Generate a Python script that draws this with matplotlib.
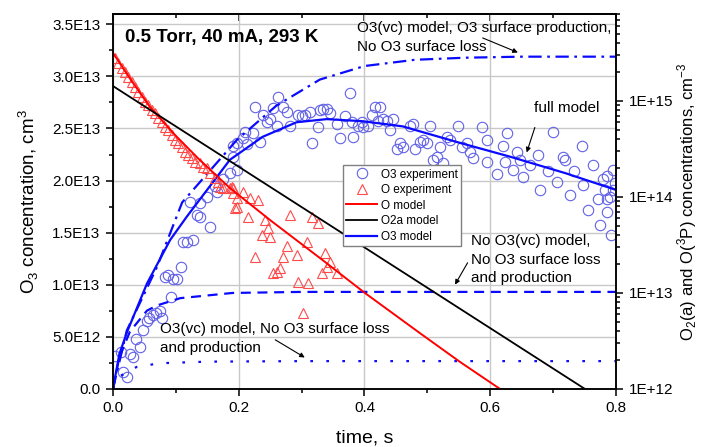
import matplotlib
matplotlib.use("Agg")
import matplotlib.pyplot as plt
import numpy as np

# ---- O3 experiment (time s, concentration in 1E13 cm^-3, left axis)
o3_exp_t = [0.003, 0.013, 0.016, 0.022, 0.027, 0.032, 0.037, 0.043, 0.048, 0.054,
            0.057, 0.064, 0.068, 0.075, 0.078, 0.092, 0.083, 0.087, 0.095, 0.102,
            0.108, 0.111, 0.118, 0.127, 0.122, 0.134, 0.138, 0.149, 0.138, 0.154,
            0.165, 0.162, 0.175, 0.186, 0.197, 0.191, 0.197, 0.191, 0.210, 0.207,
            0.213, 0.226, 0.223, 0.234, 0.238, 0.245, 0.250, 0.254, 0.262, 0.261,
            0.270, 0.277, 0.281, 0.294, 0.300, 0.305, 0.313, 0.316, 0.326, 0.329,
            0.334, 0.340, 0.345, 0.356, 0.361, 0.369, 0.377, 0.380, 0.382, 0.390,
            0.396, 0.397, 0.405, 0.412, 0.417, 0.424, 0.421, 0.429, 0.436, 0.440,
            0.445, 0.452, 0.456, 0.461, 0.472, 0.477, 0.480, 0.488, 0.493, 0.499,
            0.504, 0.509, 0.515, 0.520, 0.525, 0.531, 0.536, 0.548, 0.555, 0.563,
            0.568, 0.587, 0.595, 0.626, 0.620, 0.642, 0.700, 0.746, 0.676, 0.715,
            0.572, 0.595, 0.610, 0.623, 0.636, 0.647, 0.652, 0.663, 0.679, 0.692,
            0.706, 0.719, 0.727, 0.734, 0.747, 0.755, 0.763, 0.771, 0.774, 0.779,
            0.785, 0.792, 0.796, 0.795, 0.785, 0.782, 0.790, 0.798, 0.785]
o3_exp_v = [0.31, 0.35, 0.16, 0.11, 0.33, 0.30, 0.48, 0.40, 0.56, 0.65,
            0.68, 0.71, 0.73, 0.75, 0.68, 0.88, 1.07, 1.09, 1.05, 1.05,
            1.17, 1.41, 1.41, 1.43, 1.79, 1.67, 1.78, 1.84, 1.65, 1.55,
            1.89, 1.95, 2.01, 2.07, 2.10, 2.23, 2.36, 2.33, 2.47, 2.41,
            2.35, 2.71, 2.46, 2.37, 2.63, 2.56, 2.59, 2.70, 2.80, 2.52,
            2.71, 2.66, 2.52, 2.63, 2.62, 2.63, 2.66, 2.36, 2.51, 2.68,
            2.69, 2.69, 2.65, 2.54, 2.41, 2.62, 2.84, 2.56, 2.42, 2.52,
            2.56, 2.51, 2.52, 2.63, 2.71, 2.71, 2.57, 2.59, 2.57, 2.49,
            2.59, 2.30, 2.36, 2.32, 2.52, 2.54, 2.30, 2.37, 2.39, 2.36,
            2.52, 2.20, 2.23, 2.32, 2.17, 2.42, 2.39, 2.52, 2.32, 2.36,
            2.27, 2.51, 2.39, 2.46, 2.33, 2.27, 2.47, 2.33, 2.25, 2.23,
            2.22, 2.18, 2.06, 2.18, 2.10, 2.20, 2.03, 2.15, 1.91, 2.09,
            1.99, 2.20, 1.86, 2.09, 1.96, 1.72, 2.15, 1.82, 1.57, 2.01,
            1.70, 1.48, 1.91, 2.10, 2.04, 1.91, 1.84, 1.98, 1.82]

# ---- O experiment (time s, concentration cm^-3, right axis)
o_exp_t = [0.003, 0.008, 0.014, 0.019, 0.024, 0.030, 0.035, 0.040, 0.046, 0.051,
           0.056, 0.062, 0.067, 0.072, 0.078, 0.083, 0.087, 0.094, 0.099, 0.103,
           0.110, 0.114, 0.119, 0.126, 0.130, 0.138, 0.143, 0.149, 0.154, 0.162,
           0.167, 0.170, 0.175, 0.186, 0.191, 0.197, 0.189, 0.191, 0.197, 0.207,
           0.218, 0.231, 0.194, 0.215, 0.242, 0.246, 0.237, 0.250, 0.281, 0.316,
           0.326, 0.226, 0.277, 0.270, 0.293, 0.308, 0.337, 0.345, 0.340, 0.266,
           0.261, 0.254, 0.332, 0.356, 0.294, 0.310, 0.302]
o_exp_v = [2.79e15, 2.47e15, 2.19e15, 1.99e15, 1.77e15, 1.57e15, 1.39e15, 1.23e15, 1.09e15, 9.7e14,
           9.0e14, 8.0e14, 7.45e14, 6.6e14, 6.0e14, 5.3e14, 4.95e14, 4.4e14, 3.9e14, 3.62e14,
           3.3e14, 2.92e14, 2.72e14, 2.53e14, 2.30e14, 2.24e14, 2.04e14, 1.99e14, 1.77e14, 1.57e14,
           1.42e14, 1.26e14, 1.23e14, 1.23e14, 1.23e14, 7.8e13, 1.26e14, 1.09e14, 9.7e13, 1.12e14,
           9.7e13, 9.2e13, 7.6e13, 6.1e13, 5.7e13, 4.7e13, 4.0e13, 3.8e13, 6.4e13, 6.1e13,
           5.3e13, 2.36e13, 3.1e13, 2.36e13, 2.47e13, 3.4e13, 2.6e13, 2.1e13, 1.85e13, 1.81e13,
           1.64e13, 1.60e13, 1.60e13, 1.60e13, 1.29e13, 1.26e13, 6.1e12]

# ---- models
o_model_t = [0.0, 0.0286, 0.0588, 0.0986, 0.138, 0.186, 0.250, 0.329, 0.401, 0.488, 0.552, 0.615]
o_model_v = [3.14e15, 1.64e15, 8.6e14, 4.4e14, 2.41e14, 1.23e14, 5.7e13, 2.3e13, 9.9e12, 3.8e12, 1.9e12, 1.0e12]

o2a_model_t = [0.0, 0.369, 0.75]
o2a_model_v = [1.42e15, 4.0e13, 1.0e12]

o3_full_t = [0.0, 0.010, 0.022, 0.054, 0.091, 0.117, 0.186, 0.238, 0.292, 0.340,
             0.397, 0.461, 0.547, 0.631, 0.72, 0.8]
o3_full_v = [0.0, 0.33, 0.54, 1.01, 1.43, 1.65, 2.20, 2.42, 2.56, 2.59,
             2.57, 2.52, 2.37, 2.23, 2.07, 1.91]

o3_prod_t = [0.0, 0.022, 0.07, 0.11, 0.197, 0.26, 0.329, 0.40, 0.48, 0.56, 0.65, 0.8]
o3_prod_v = [0.0, 0.56, 1.17, 1.79, 2.39, 2.72, 2.97, 3.10, 3.16, 3.18, 3.19, 3.19]

o3_novc_t = [0.0, 0.01, 0.027, 0.054, 0.07, 0.107, 0.19, 0.3, 0.8]
o3_novc_v = [0.0, 0.30, 0.55, 0.75, 0.80, 0.87, 0.92, 0.93, 0.93]

o3_noloss_t = [0.0, 0.006, 0.022, 0.038, 0.075, 0.15, 0.3, 0.8]
o3_noloss_v = [0.0, 0.10, 0.16, 0.21, 0.245, 0.26, 0.265, 0.265]

# ---- ticks
left_ticks = [0.0, 0.5e13, 1.0e13, 1.5e13, 2.0e13, 2.5e13, 3.0e13, 3.5e13]
left_labels = ["0.0", "5.0E12", "1.0E13", "1.5E13", "2.0E13", "2.5E13", "3.0E13", "3.5E13"]
right_ticks = [1e12, 1e13, 1e14, 1e15]
right_labels = ["1E+12", "1E+13", "1E+14", "1E+15"]
x_ticks = [0.0, 0.2, 0.4, 0.6, 0.8]
x_labels = ["0.0", "0.2", "0.4", "0.6", "0.8"]

plt.rcParams["font.family"] = ["Liberation Sans", "DejaVu Sans"]
plt.rcParams["mathtext.fontset"] = "custom"
plt.rcParams["mathtext.rm"] = "Liberation Sans"
plt.rcParams["axes.linewidth"] = 1.1

fig = plt.figure(figsize=(7.01, 4.47), dpi=100)
ax = fig.add_axes([0.1612, 0.1304, 0.7175, 0.8383])
ax2 = ax.twinx()

blue = "#0a0aff"
e13 = 1e13

# left axis: ozone
h_o3exp, = ax.plot(o3_exp_t, np.array(o3_exp_v) * e13, "o", ms=7.5, mfc="none",
                   mec="#6262e6", mew=0.8, label="O3 experiment")
h_o3, = ax.plot(o3_full_t, np.array(o3_full_v) * e13, "-", color=blue, lw=1.6, label="O3 model")
ax.plot(o3_prod_t, np.array(o3_prod_v) * e13, color=blue, lw=1.6, dashes=(6, 2.5, 1.2, 2.5))
ax.plot(o3_novc_t, np.array(o3_novc_v) * e13, color=blue, lw=1.6, dashes=(4.5, 3))
ax.plot(o3_noloss_t, np.array(o3_noloss_v) * e13, color=blue, lw=1.6, dashes=(1.2, 6))

# right axis: O and O2(a)
h_oexp, = ax2.plot(o_exp_t, o_exp_v, "^", ms=7.5, mfc="none", mec="#ff4a4a", mew=0.8,
                   label="O experiment")
h_o, = ax2.plot(o_model_t, o_model_v, "-", color="#ff0000", lw=1.4, label="O model")
h_o2a, = ax2.plot(o2a_model_t, o2a_model_v, "-", color="black", lw=1.3, label="O2a model")

ax.set_xlim(0, 0.8)
ax.set_ylim(0, 3.6e13)
ax2.set_yscale("log")
ax2.set_ylim(1e12, 8e15)

ax.set_xticks(x_ticks, x_labels)
ax.set_xticks(np.arange(0.1, 0.8, 0.2), minor=True)
ax.set_yticks(left_ticks, left_labels)
ax.set_yticks(np.arange(0.25e13, 3.6e13, 0.5e13), minor=True)
ax2.set_yticks(right_ticks, right_labels)
ax2.yaxis.set_minor_locator(matplotlib.ticker.LogLocator(base=10, subs=np.arange(2, 10)))
ax2.yaxis.set_minor_formatter(matplotlib.ticker.NullFormatter())

ax.tick_params(which="both", direction="out", labelsize=11, width=1.1)
ax.tick_params(which="major", length=5, pad=4)
ax.tick_params(which="minor", length=3)
ax2.tick_params(which="both", direction="out", labelsize=11, width=1.1)
ax2.tick_params(which="major", length=5, pad=4)
ax2.tick_params(which="minor", length=3)

# inward ticks on the top edge
top = ax.secondary_xaxis("top")
top.set_xticks(x_ticks)
top.set_xticks(np.arange(0.1, 0.8, 0.2), minor=True)
top.tick_params(which="both", direction="in", labeltop=False, width=1.1)
top.tick_params(which="major", length=5)
top.tick_params(which="minor", length=3)

ax.grid(True, which="major", color="#c8c8c8", lw=1.0)
ax.set_axisbelow(True)

ax.set_xlabel("time, s", fontsize=14, labelpad=10)
ax.set_ylabel("O$_3$ concentration, cm$^3$", fontsize=13.5, labelpad=8)
ax2.set_ylabel("O$_2$(a) and O($^3$P) concentrations, cm$^{-3}$", fontsize=12, labelpad=2)

leg = ax2.legend(handles=[h_o3exp, h_oexp, h_o, h_o2a, h_o3], loc="upper left",
                 bbox_to_anchor=(0.457, 0.597), fontsize=8.5, fancybox=False,
                 framealpha=1, edgecolor="#808080", handlelength=2.6,
                 borderpad=0.3, labelspacing=0.3, handletextpad=0.3, borderaxespad=0)
leg.get_frame().set_linewidth(1.0)

# annotations (left axis data coordinates)
ax.text(0.019, 3.375e13, "0.5 Torr, 40 mA, 293 K", fontsize=13.5, fontweight="bold",
        va="center", ha="left", zorder=5)
ax.text(0.388, 3.53e13, "O3(vc) model, O3 surface production,\nNo O3 surface loss",
        fontsize=11, va="top", ha="left", linespacing=1.45)
ax.text(0.722, 2.70e13, "full model", fontsize=11, va="center", ha="center")
ax.text(0.569, 1.485e13, "No O3(vc) model,\nNo O3 surface loss\nand production",
        fontsize=11, va="top", ha="left", linespacing=1.4)
ax.text(0.075, 0.64e13, "O3(vc) model, No O3 surface loss\nand production",
        fontsize=11, va="top", ha="left", linespacing=1.45)

arrows = [((0.588, 3.37e13), (0.644, 3.23e13)),
          ((0.671, 2.51e13), (0.658, 2.27e13)),
          ((0.564, 1.21e13), (0.544, 1.00e13)),
          ((0.258, 0.47e13), (0.305, 0.30e13))]
for tail, head in arrows:
    ax.annotate("", xy=head, xytext=tail,
                arrowprops=dict(arrowstyle="-|>", color="black", lw=0.8,
                                mutation_scale=7, shrinkA=0, shrinkB=0))

fig.savefig("out.png", dpi=100)
